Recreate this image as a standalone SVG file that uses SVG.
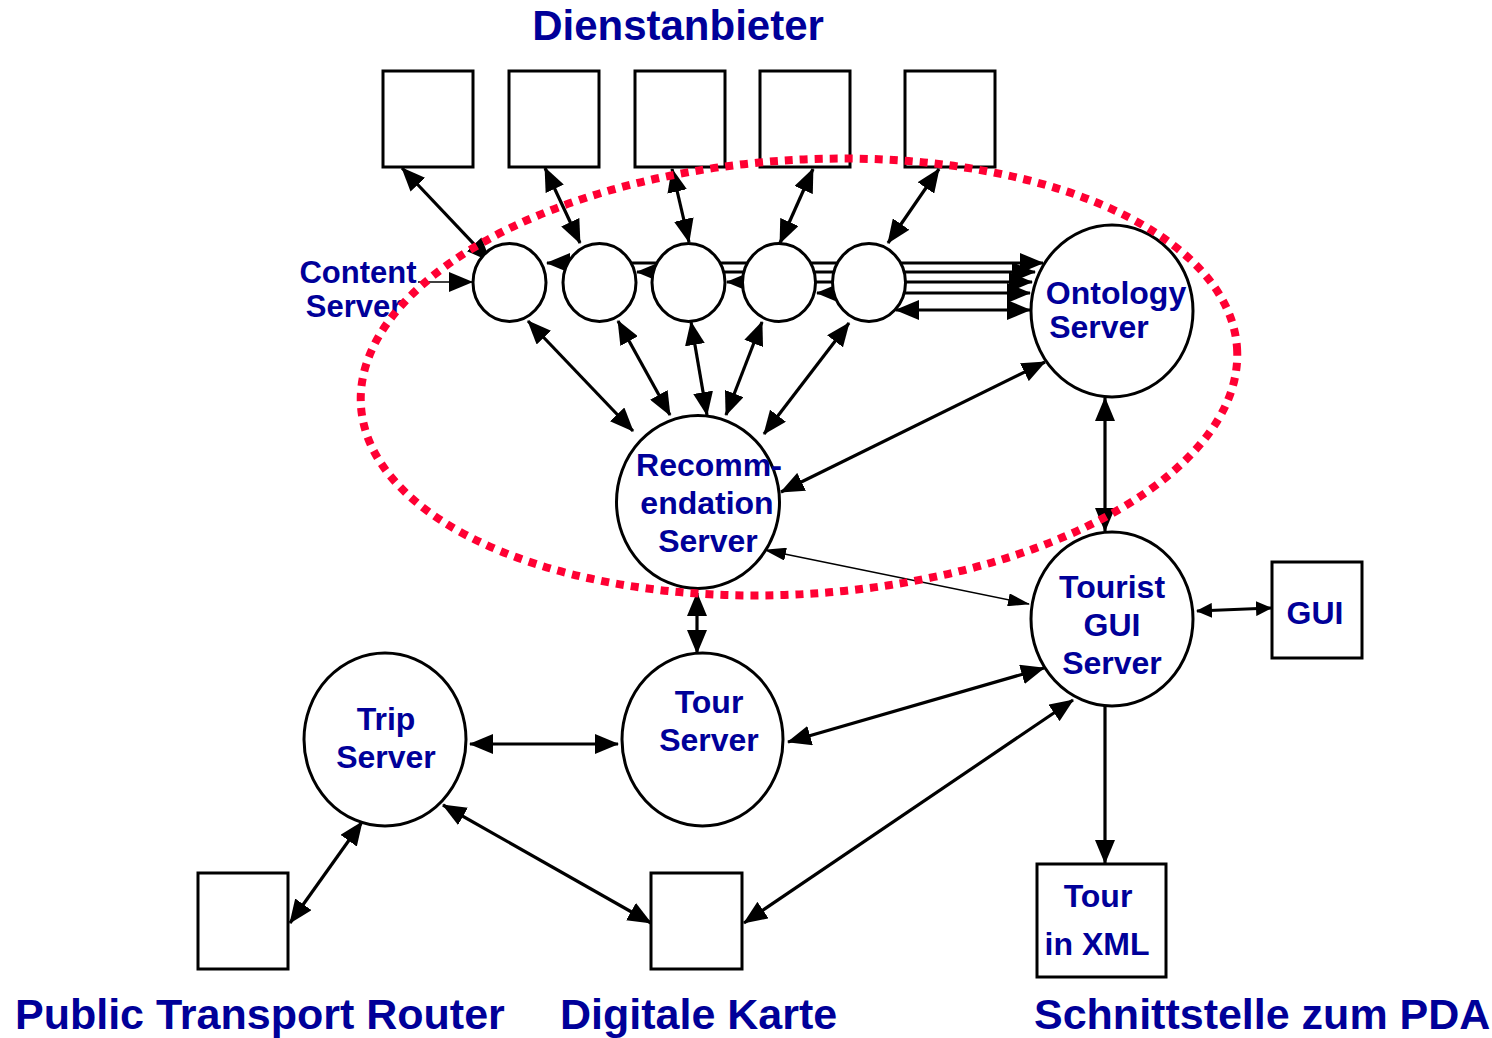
<svg xmlns="http://www.w3.org/2000/svg" width="1492" height="1038" viewBox="0 0 1492 1038">
<style>
.bx{fill:#fff;stroke:#000;stroke-width:3}
.nd{fill:#fff;stroke:#000;stroke-width:3}
.tx{font-family:"Liberation Sans",Arial,sans-serif;font-weight:bold;font-size:32px;fill:#000099;text-anchor:middle}
.big{font-size:42px}
.bot{font-size:43px;text-anchor:start}
.ln{stroke:#000;stroke-width:3.2;fill:none}
.thin{stroke-width:1.7}
.da{marker-start:url(#ah);marker-end:url(#ah)}
.de{marker-end:url(#ah)}
</style>
<defs>
<marker id="ah" viewBox="0 0 24 20" refX="23" refY="10" markerWidth="24" markerHeight="20" markerUnits="userSpaceOnUse" orient="auto-start-reverse"><path d="M0,0 L24,10 L0,20 z" fill="#000"/></marker>
<marker id="as" viewBox="0 0 22 13" refX="21" refY="6.5" markerWidth="22" markerHeight="13" markerUnits="userSpaceOnUse" orient="auto-start-reverse"><path d="M0,0 L22,6.5 L0,13 z" fill="#000"/></marker>
<marker id="ag" viewBox="0 0 16 15" refX="15" refY="7.5" markerWidth="16" markerHeight="15" markerUnits="userSpaceOnUse" orient="auto-start-reverse"><path d="M0,0 L16,7.5 L0,15 z" fill="#000"/></marker>
</defs>
<rect width="1492" height="1038" fill="#fff"/>

<g id="connectors">
<line class="ln da" x1="402" y1="168" x2="490" y2="261"/>
<line class="ln da" x1="545" y1="168" x2="580" y2="243"/>
<line class="ln da" x1="672" y1="169" x2="689" y2="242"/>
<line class="ln da" x1="813" y1="169" x2="780" y2="243"/>
<line class="ln da" x1="939" y1="169" x2="888" y2="243"/>
<line class="ln thin de" x1="418" y1="282" x2="472" y2="282"/>
<line class="ln da" x1="547" y1="263" x2="1043" y2="263"/>
<line class="ln da" x1="637" y1="272" x2="1035" y2="272"/>
<line class="ln da" x1="727" y1="282" x2="1032" y2="282"/>
<line class="ln da" x1="817" y1="293" x2="1030" y2="293"/>
<line class="ln da" x1="896" y1="310" x2="1030" y2="310"/>
<line class="ln da" x1="528" y1="321" x2="633" y2="431"/>
<line class="ln da" x1="618" y1="321" x2="670" y2="415"/>
<line class="ln da" x1="691" y1="322" x2="707" y2="415"/>
<line class="ln da" x1="762" y1="322" x2="726" y2="415"/>
<line class="ln da" x1="849" y1="323" x2="764" y2="434"/>
<line class="ln da" x1="1045" y1="362" x2="781" y2="492"/>
<line class="ln da" x1="1105" y1="398" x2="1105" y2="531"/>
<line class="ln thin" style="marker-start:url(#as);marker-end:url(#as)" x1="765" y1="550" x2="1029" y2="604"/>
<line class="ln" style="marker-start:url(#ag);marker-end:url(#ag)" x1="1197" y1="611" x2="1271" y2="608"/>
<line class="ln da" x1="697" y1="593" x2="697" y2="653"/>
<line class="ln da" x1="788" y1="742" x2="1044" y2="668"/>
<line class="ln da" x1="470" y1="744" x2="618" y2="744"/>
<line class="ln de" x1="1105" y1="704" x2="1105" y2="863"/>
<line class="ln da" x1="362" y1="822" x2="290" y2="923"/>
<line class="ln da" x1="443" y1="805" x2="651" y2="923"/>
<line class="ln da" x1="1073" y1="700" x2="744" y2="923"/>
</g>

<g id="title"><text class="tx big" x="678" y="40">Dienstanbieter</text></g>
<g id="provider1"><rect class="bx" x="383" y="71" width="90" height="96"/></g>
<g id="provider2"><rect class="bx" x="509" y="71" width="90" height="96"/></g>
<g id="provider3"><rect class="bx" x="635" y="71" width="90" height="96"/></g>
<g id="provider4"><rect class="bx" x="760" y="71" width="90" height="96"/></g>
<g id="provider5"><rect class="bx" x="905" y="71" width="90" height="96"/></g>

<g id="content-label"><text class="tx" style="font-size:31px" x="358" y="283">Content</text><text class="tx" style="font-size:31px" x="354" y="317">Server</text></g>
<g id="content1"><ellipse class="nd" cx="509.5" cy="282.5" rx="36.5" ry="39"/></g>
<g id="content2"><ellipse class="nd" cx="599.5" cy="282.5" rx="36.5" ry="39"/></g>
<g id="content3"><ellipse class="nd" cx="688.5" cy="282.5" rx="36.5" ry="39"/></g>
<g id="content4"><ellipse class="nd" cx="779" cy="282.5" rx="36.5" ry="39"/></g>
<g id="content5"><ellipse class="nd" cx="869" cy="282.5" rx="36.5" ry="39"/></g>

<g id="ontology"><ellipse class="nd" cx="1112" cy="311" rx="81" ry="86"/><text class="tx" x="1116" y="304">Ontology</text><text class="tx" x="1099" y="338">Server</text></g>
<g id="recommendation"><ellipse class="nd" cx="698" cy="502" rx="81.5" ry="86.5"/><text class="tx" x="709" y="476">Recomm-</text><text class="tx" x="707" y="514">endation</text><text class="tx" x="708" y="552">Server</text></g>
<g id="tourist"><ellipse class="nd" cx="1112" cy="619" rx="81" ry="87"/><text class="tx" x="1112" y="598">Tourist</text><text class="tx" x="1112" y="636">GUI</text><text class="tx" x="1112" y="674">Server</text></g>
<g id="gui"><rect class="bx" x="1272" y="562" width="90" height="96"/><text class="tx" x="1315" y="624">GUI</text></g>
<g id="tour"><ellipse class="nd" cx="702.5" cy="739.5" rx="80.5" ry="86.5"/><text class="tx" x="709" y="713">Tour</text><text class="tx" x="709" y="751">Server</text></g>
<g id="trip"><ellipse class="nd" cx="385" cy="739.5" rx="81" ry="86.5"/><text class="tx" x="386" y="730">Trip</text><text class="tx" x="386" y="768">Server</text></g>
<g id="xml"><rect class="bx" x="1037" y="864" width="129" height="113"/><text class="tx" x="1098" y="907">Tour</text><text class="tx" x="1097" y="955">in XML</text></g>
<g id="router"><rect class="bx" x="198" y="873" width="90" height="96"/><text class="tx bot" x="15" y="1029">Public Transport Router</text></g>
<g id="map"><rect class="bx" x="651" y="873" width="91" height="96"/><text class="tx bot" x="560" y="1029">Digitale Karte</text></g>
<g id="pda"><text class="tx bot" x="1034" y="1029">Schnittstelle zum PDA</text></g>

<g id="boundary"><ellipse cx="799" cy="377" rx="439" ry="217" transform="rotate(-3.8 799 377)" fill="none" stroke="#ff0033" stroke-width="8" stroke-dasharray="8 7"/></g>
</svg>
